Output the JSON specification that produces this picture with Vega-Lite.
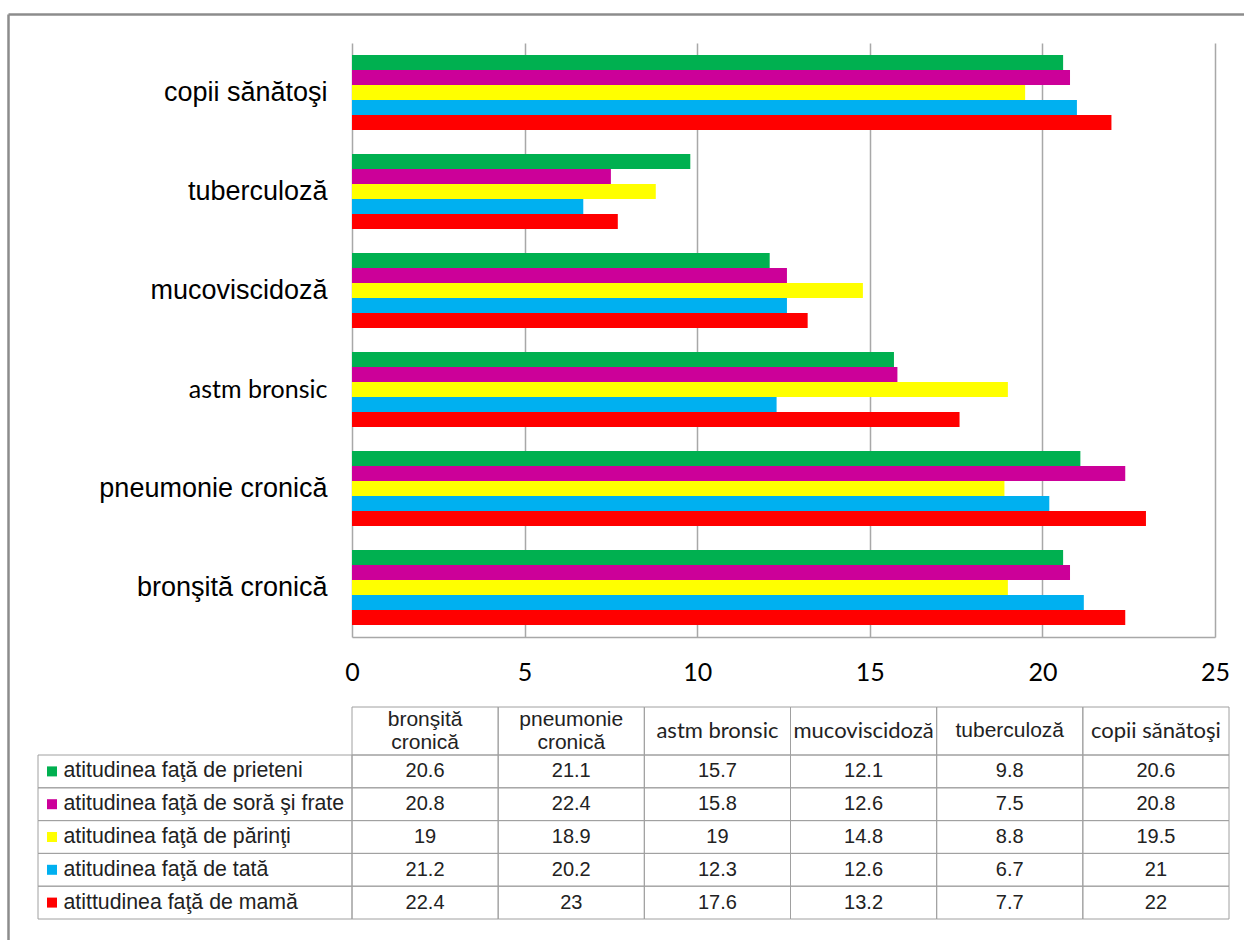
{
  "$schema": "https://vega.github.io/schema/vega-lite/v6.json",
  "background": "white",
  "padding": {"left": 5, "top": 11, "right": 0, "bottom": 0},
  "columns": 3,
  "align": "each",
  "bounds": "flush",
  "spacing": 0,
  "datasets": {
    "date": [
      {"boala": "bronşită cronică", "serie": "atitudinea faţă de prieteni", "valoare": 20.6},
      {"boala": "bronşită cronică", "serie": "atitudinea faţă de soră şi frate", "valoare": 20.8},
      {"boala": "bronşită cronică", "serie": "atitudinea faţă de părinţi", "valoare": 19},
      {"boala": "bronşită cronică", "serie": "atitudinea faţă de tată", "valoare": 21.2},
      {"boala": "bronşită cronică", "serie": "atittudinea faţă de mamă", "valoare": 22.4},
      {"boala": "pneumonie cronică", "serie": "atitudinea faţă de prieteni", "valoare": 21.1},
      {"boala": "pneumonie cronică", "serie": "atitudinea faţă de soră şi frate", "valoare": 22.4},
      {"boala": "pneumonie cronică", "serie": "atitudinea faţă de părinţi", "valoare": 18.9},
      {"boala": "pneumonie cronică", "serie": "atitudinea faţă de tată", "valoare": 20.2},
      {"boala": "pneumonie cronică", "serie": "atittudinea faţă de mamă", "valoare": 23},
      {"boala": "astm bronsic", "serie": "atitudinea faţă de prieteni", "valoare": 15.7},
      {"boala": "astm bronsic", "serie": "atitudinea faţă de soră şi frate", "valoare": 15.8},
      {"boala": "astm bronsic", "serie": "atitudinea faţă de părinţi", "valoare": 19},
      {"boala": "astm bronsic", "serie": "atitudinea faţă de tată", "valoare": 12.3},
      {"boala": "astm bronsic", "serie": "atittudinea faţă de mamă", "valoare": 17.6},
      {"boala": "mucoviscidoză", "serie": "atitudinea faţă de prieteni", "valoare": 12.1},
      {"boala": "mucoviscidoză", "serie": "atitudinea faţă de soră şi frate", "valoare": 12.6},
      {"boala": "mucoviscidoză", "serie": "atitudinea faţă de părinţi", "valoare": 14.8},
      {"boala": "mucoviscidoză", "serie": "atitudinea faţă de tată", "valoare": 12.6},
      {"boala": "mucoviscidoză", "serie": "atittudinea faţă de mamă", "valoare": 13.2},
      {"boala": "tuberculoză", "serie": "atitudinea faţă de prieteni", "valoare": 9.8},
      {"boala": "tuberculoză", "serie": "atitudinea faţă de soră şi frate", "valoare": 7.5},
      {"boala": "tuberculoză", "serie": "atitudinea faţă de părinţi", "valoare": 8.8},
      {"boala": "tuberculoză", "serie": "atitudinea faţă de tată", "valoare": 6.7},
      {"boala": "tuberculoză", "serie": "atittudinea faţă de mamă", "valoare": 7.7},
      {"boala": "copii sănătoşi", "serie": "atitudinea faţă de prieteni", "valoare": 20.6},
      {"boala": "copii sănătoşi", "serie": "atitudinea faţă de soră şi frate", "valoare": 20.8},
      {"boala": "copii sănătoşi", "serie": "atitudinea faţă de părinţi", "valoare": 19.5},
      {"boala": "copii sănătoşi", "serie": "atitudinea faţă de tată", "valoare": 21},
      {"boala": "copii sănătoşi", "serie": "atittudinea faţă de mamă", "valoare": 22}
    ],
    "antet": [
      {"boala": "bronşită cronică", "eticheta": "bronşită\ncronică"},
      {"boala": "pneumonie cronică", "eticheta": "pneumonie\ncronică"},
      {"boala": "astm bronsic", "eticheta": "astm bronsic"},
      {"boala": "mucoviscidoză", "eticheta": "mucoviscidoză"},
      {"boala": "tuberculoză", "eticheta": "tuberculoză"},
      {"boala": "copii sănătoşi", "eticheta": "copii sănătoşi"}
    ],
    "serii": [
      {"serie": "atitudinea faţă de prieteni"},
      {"serie": "atitudinea faţă de soră şi frate"},
      {"serie": "atitudinea faţă de părinţi"},
      {"serie": "atitudinea faţă de tată"},
      {"serie": "atittudinea faţă de mamă"}
    ]
  },
  "concat": [
    {
      "width": 30, "height": 29,
      "data": {"name": "serii"},
      "mark": {"type": "point", "opacity": 0},
      "encoding": {
        "x": {
          "datum": 0, "type": "quantitative", "scale": {"domain": [0, 1]},
          "axis": {"orient": "top", "values": [0], "domain": false, "labels": false, "grid": false, "title": null,
                   "ticks": true, "tickSize": -935, "tickColor": "#8c8c8c", "tickWidth": 2.5}
        },
        "y": {
          "datum": 1, "type": "quantitative", "scale": {"domain": [0, 1]},
          "axis": {"orient": "left", "values": [1], "domain": false, "labels": false, "grid": false, "title": null,
                   "ticks": true, "tickSize": -1245, "tickColor": "#8c8c8c", "tickWidth": 2.5}
        }
      }
    },
    {"width": 1, "height": 1, "data": {"name": "serii"}, "mark": {"type": "point", "opacity": 0}, "encoding": {}},
    {"width": 1, "height": 1, "data": {"name": "serii"}, "mark": {"type": "point", "opacity": 0}, "encoding": {}},
    {"width": 1, "height": 1, "data": {"name": "serii"}, "mark": {"type": "point", "opacity": 0}, "encoding": {}},
    {"width": 314, "height": 664, "data": {"name": "serii"}, "mark": {"type": "point", "opacity": 0}, "encoding": {}},
    {
      "width": 863, "height": 594,
      "data": {"name": "date"},
      "mark": {"type": "bar"},
      "encoding": {
        "y": {
          "field": "boala", "type": "nominal",
          "sort": ["copii sănătoşi", "tuberculoză", "mucoviscidoză", "astm bronsic", "pneumonie cronică", "bronşită cronică"],
          "scale": {"paddingInner": 0.2424, "paddingOuter": 0.1212},
          "axis": {
            "title": null, "ticks": false, "domain": false,
            "labelFontSize": {"condition": {"test": "datum.value === 'astm bronsic'", "value": 25}, "value": 27},
            "labelFont": {"condition": {"test": "datum.value === 'astm bronsic'", "value": "Lato"}, "value": "Liberation Sans"},
            "labelPadding": 25, "labelColor": "#000000", "labelLimit": 400
          }
        },
        "yOffset": {
          "field": "serie", "type": "nominal",
          "sort": ["atitudinea faţă de prieteni", "atitudinea faţă de soră şi frate", "atitudinea faţă de părinţi", "atitudinea faţă de tată", "atittudinea faţă de mamă"],
          "scale": {"paddingInner": 0, "paddingOuter": 0}
        },
        "x": {
          "field": "valoare", "type": "quantitative",
          "scale": {"domain": [0, 25], "nice": false},
          "axis": {
            "title": null, "values": [0, 5, 10, 15, 20, 25], "grid": true,
            "gridColor": "#a8a8a8", "gridWidth": 1.5, "ticks": false,
            "domainColor": "#a8a8a8", "domainWidth": 1.5,
            "labelFontSize": 25, "labelFont": "Lato", "labelColor": "#000000",
            "labelPadding": 35, "labelBaseline": "middle", "labelFlush": false
          }
        },
        "color": {
          "field": "serie", "type": "nominal",
          "scale": {
            "domain": ["atitudinea faţă de prieteni", "atitudinea faţă de soră şi frate", "atitudinea faţă de părinţi", "atitudinea faţă de tată", "atittudinea faţă de mamă"],
            "range": ["#00B050", "#CC0099", "#FFFF00", "#00B0F0", "#FF0000"]
          },
          "legend": null
        }
      }
    },
    {"width": 1, "height": 1, "data": {"name": "serii"}, "mark": {"type": "point", "opacity": 0}, "encoding": {}},
    {"width": 1, "height": 1, "data": {"name": "serii"}, "mark": {"type": "point", "opacity": 0}, "encoding": {}},
    {
      "width": 877, "height": 48,
      "data": {"name": "antet"},
      "layer": [
        {
          "mark": {"type": "rect", "fillOpacity": 0, "stroke": "#a0a0a0", "strokeWidth": 1, "strokeOpacity": 1},
          "encoding": {
            "x": {
              "field": "boala", "type": "nominal",
              "sort": ["bronşită cronică", "pneumonie cronică", "astm bronsic", "mucoviscidoză", "tuberculoză", "copii sănătoşi"],
              "scale": {"paddingInner": 0, "paddingOuter": 0},
              "axis": null
            }
          }
        },
        {
          "mark": {
            "type": "text", "lineBreak": "\n", "lineHeight": 23, "color": "#222222", "baseline": "middle",
            "dy": {"expr": "indexof(datum.eticheta, '\\n') >= 0 ? -11.5 : 0"},
            "fontSize": {"expr": "indexof(['astm bronsic','mucoviscidoză','copii sănătoşi'], datum.boala) >= 0 ? 22 : 21"},
            "font": {"expr": "indexof(['astm bronsic','mucoviscidoză','copii sănătoşi'], datum.boala) >= 0 ? 'Lato' : 'Liberation Sans'"}
          },
          "encoding": {
            "x": {
              "field": "boala", "type": "nominal",
              "sort": ["bronşită cronică", "pneumonie cronică", "astm bronsic", "mucoviscidoză", "tuberculoză", "copii sănătoşi"],
              "scale": {"paddingInner": 0, "paddingOuter": 0}
            },
            "text": {"field": "eticheta", "type": "nominal"}
          }
        }
      ]
    },
    {"width": 1, "height": 1, "data": {"name": "serii"}, "mark": {"type": "point", "opacity": 0}, "encoding": {}},
    {
      "width": 314, "height": 164,
      "data": {"name": "serii"},
      "layer": [
        {
          "mark": {"type": "rect", "fillOpacity": 0, "stroke": "#a0a0a0", "strokeWidth": 1, "strokeOpacity": 1},
          "encoding": {
            "y": {
              "field": "serie", "type": "nominal",
              "sort": ["atitudinea faţă de prieteni", "atitudinea faţă de soră şi frate", "atitudinea faţă de părinţi", "atitudinea faţă de tată", "atittudinea faţă de mamă"],
              "scale": {"paddingInner": 0, "paddingOuter": 0},
              "axis": null
            }
          }
        },
        {
          "mark": {"type": "point", "shape": "square", "filled": true, "opacity": 1, "size": 100, "xOffset": -143},
          "encoding": {
            "y": {
              "field": "serie", "type": "nominal",
              "sort": ["atitudinea faţă de prieteni", "atitudinea faţă de soră şi frate", "atitudinea faţă de părinţi", "atitudinea faţă de tată", "atittudinea faţă de mamă"],
              "scale": {"paddingInner": 0, "paddingOuter": 0},
              "axis": null
            },
            "color": {
              "field": "serie", "type": "nominal",
              "scale": {
                "domain": ["atitudinea faţă de prieteni", "atitudinea faţă de soră şi frate", "atitudinea faţă de părinţi", "atitudinea faţă de tată", "atittudinea faţă de mamă"],
                "range": ["#00B050", "#CC0099", "#FFFF00", "#00B0F0", "#FF0000"]
              },
              "legend": null
            }
          }
        }
      ]
    },
    {
      "width": 877, "height": 164,
      "data": {"name": "date"},
      "layer": [
        {
          "mark": {"type": "rect", "fillOpacity": 0, "stroke": "#a0a0a0", "strokeWidth": 1, "strokeOpacity": 1},
          "encoding": {
            "x": {
              "field": "boala", "type": "nominal",
              "sort": ["bronşită cronică", "pneumonie cronică", "astm bronsic", "mucoviscidoză", "tuberculoză", "copii sănătoşi"],
              "scale": {"paddingInner": 0, "paddingOuter": 0},
              "axis": null
            },
            "y": {
              "field": "serie", "type": "nominal",
              "sort": ["atitudinea faţă de prieteni", "atitudinea faţă de soră şi frate", "atitudinea faţă de părinţi", "atitudinea faţă de tată", "atittudinea faţă de mamă"],
              "scale": {"paddingInner": 0, "paddingOuter": 0},
              "axis": {
                "title": null, "orient": "left", "ticks": false, "domain": false,
                "labelAlign": "left", "labelPadding": 289, "labelFontSize": 21.3,
                "labelFont": "Liberation Sans", "labelColor": "#222222", "labelLimit": 400
              }
            }
          }
        },
        {
          "mark": {"type": "text", "fontSize": 20, "font": "Liberation Sans", "color": "#222222", "baseline": "middle"},
          "encoding": {
            "x": {
              "field": "boala", "type": "nominal",
              "sort": ["bronşită cronică", "pneumonie cronică", "astm bronsic", "mucoviscidoză", "tuberculoză", "copii sănătoşi"],
              "scale": {"paddingInner": 0, "paddingOuter": 0}
            },
            "y": {
              "field": "serie", "type": "nominal",
              "sort": ["atitudinea faţă de prieteni", "atitudinea faţă de soră şi frate", "atitudinea faţă de părinţi", "atitudinea faţă de tată", "atittudinea faţă de mamă"],
              "scale": {"paddingInner": 0, "paddingOuter": 0}
            },
            "text": {"field": "valoare", "type": "quantitative"}
          }
        }
      ]
    }
  ],
  "config": {
    "view": {"stroke": null},
    "font": "Liberation Sans"
  }
}
